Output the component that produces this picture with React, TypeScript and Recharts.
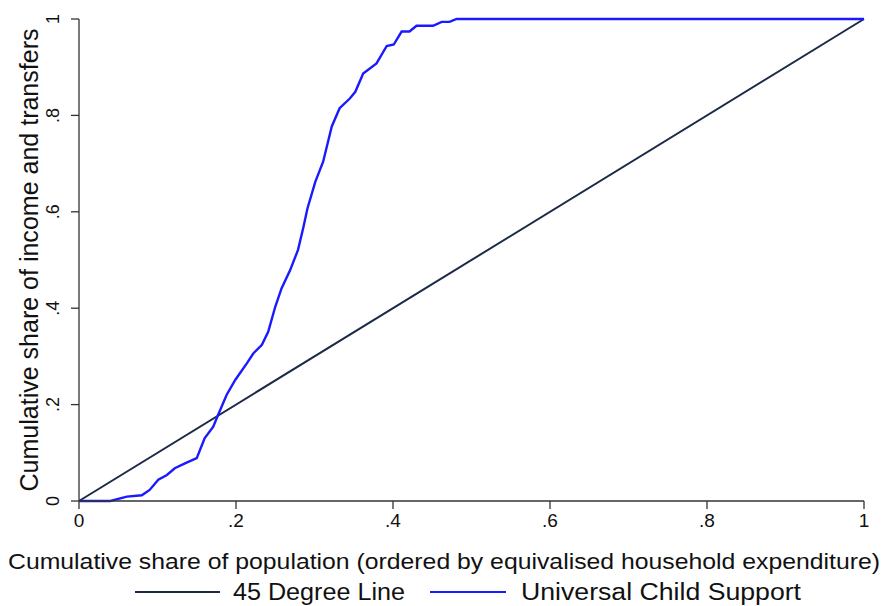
import { LineChart, Line, XAxis, YAxis, Legend } from "recharts";

// 45 degree reference line
const equalityX = [0, 1];
const equalityY = [0, 1];

// concentration curve of universal child support
const supportX = [
  0, 0.04, 0.061, 0.08, 0.09, 0.101, 0.112, 0.122, 0.135, 0.15, 0.16, 0.171, 0.177, 0.188,
  0.199, 0.214, 0.222, 0.233, 0.241, 0.25, 0.258, 0.269, 0.279, 0.286, 0.291, 0.301, 0.311,
  0.322, 0.332, 0.345, 0.352, 0.362, 0.379, 0.392, 0.401, 0.411, 0.421, 0.43, 0.451, 0.462,
  0.472, 0.481, 1,
];
const supportY = [
  0, 0, 0.009, 0.012, 0.023, 0.044, 0.054, 0.068, 0.078, 0.089, 0.13, 0.154, 0.178, 0.22,
  0.251, 0.286, 0.306, 0.324, 0.351, 0.403, 0.441, 0.479, 0.521, 0.569, 0.607, 0.662, 0.704,
  0.777, 0.815, 0.835, 0.849, 0.887, 0.908, 0.944, 0.947, 0.974, 0.974, 0.986, 0.986, 0.994,
  0.994, 1, 1,
];

const axisTicks = [0, 0.2, 0.4, 0.6, 0.8, 1];
const tickText = (v: number) => (v === 0 ? "0" : v === 1 ? "1" : `.${Math.round(v * 10)}`);

const X_TITLE = "Cumulative share of population (ordered by equivalised household expenditure)";
const Y_TITLE = "Cumulative share of income and transfers";

const equalityData = equalityX.map((x, i) => ({ x, y: equalityY[i] }));
const supportData = supportX.map((x, i) => ({ x, y: supportY[i] }));

const FONT = "'Liberation Sans', Arial, sans-serif";
const NAVY = "#1c2a48";
const BLUE = "#1a1aff";
const AXIS = "#333";

function YTick({ x, y, payload }: any) {
  const bx = x - 12;
  return (
    <text
      x={bx}
      y={y}
      transform={`rotate(-90 ${bx} ${y})`}
      textAnchor="middle"
      fontSize={18}
      fontFamily={FONT}
      fill="#111"
    >
      {tickText(payload.value)}
    </text>
  );
}

function LegendBox() {
  return (
    <svg width={885} height={30} style={{ display: "block" }}>
      <line x1={135} x2={220} y1={16} y2={16} stroke={NAVY} strokeWidth={2} />
      <text x={233} y={24} fontSize={23} fontFamily={FONT} fill="#111" textLength={172} lengthAdjust="spacingAndGlyphs">
        45 Degree Line
      </text>
      <line x1={430} x2={506} y1={16} y2={16} stroke={BLUE} strokeWidth={2.2} />
      <text x={521} y={24} fontSize={23} fontFamily={FONT} fill="#111" textLength={280} lengthAdjust="spacingAndGlyphs">
        Universal Child Support
      </text>
    </svg>
  );
}

export default function App() {
  return (
    <div style={{ position: "absolute", left: 0, top: 0, width: 885, height: 606, background: "#fff" }}>
      <LineChart width={885} height={606} margin={{ top: 19, right: 21, bottom: 45, left: 29 }}>
        <XAxis
          dataKey="x"
          type="number"
          domain={[0, 1]}
          ticks={axisTicks}
          tickFormatter={tickText}
          height={30}
          tickSize={8}
          tickMargin={5}
          stroke={AXIS}
          strokeWidth={1.3}
          tick={{ fontSize: 19, fontFamily: FONT, fill: "#111" }}
          label={{
            content: () => (
              <text
                x={444}
                y={569}
                textAnchor="middle"
                fontSize={22}
                fontFamily={FONT}
                fill="#111"
                textLength={872}
                lengthAdjust="spacingAndGlyphs"
              >
                {X_TITLE}
              </text>
            ),
          }}
        />
        <YAxis
          type="number"
          domain={[0, 1]}
          ticks={axisTicks}
          width={50}
          tickSize={8}
          tickMargin={0}
          stroke={AXIS}
          strokeWidth={1.3}
          tick={<YTick />}
          label={{
            content: () => (
              <text
                x={38}
                y={260}
                transform="rotate(-90 38 260)"
                textAnchor="middle"
                fontSize={25}
                fontFamily={FONT}
                fill="#111"
                textLength={463}
                lengthAdjust="spacingAndGlyphs"
              >
                {Y_TITLE}
              </text>
            ),
          }}
        />
        <Legend
          verticalAlign="bottom"
          content={() => <LegendBox />}
          wrapperStyle={{ left: 0, top: 576, bottom: "auto", width: 885, height: 30 }}
        />
        <Line
          data={equalityData}
          dataKey="y"
          type="linear"
          stroke={NAVY}
          strokeWidth={2}
          dot={false}
          isAnimationActive={false}
        />
        <Line
          data={supportData}
          dataKey="y"
          type="linear"
          stroke={BLUE}
          strokeWidth={2.4}
          dot={false}
          isAnimationActive={false}
        />
      </LineChart>
    </div>
  );
}
